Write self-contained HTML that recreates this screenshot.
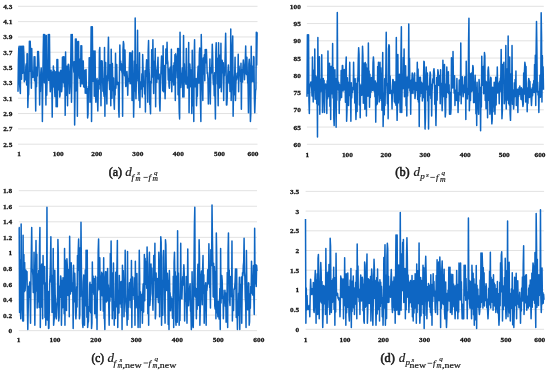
<!DOCTYPE html>
<html><head><meta charset="utf-8"><style>
html,body{margin:0;padding:0;background:#fff;}
svg{display:block;filter:blur(0.3px);}
.t{font-family:"Liberation Serif",serif;font-weight:bold;font-size:7.0px;fill:#111;stroke:#111;stroke-width:0.25px;}
.cap{font-family:"Liberation Serif",serif;fill:#1a1a1a;stroke:#1a1a1a;stroke-width:0.2px;}
</style></head><body>
<svg width="550" height="372" viewBox="0 0 550 372">
<rect width="550" height="372" fill="#fff"/>
<line x1="18.0" x2="257.5" y1="6.30" y2="6.30" stroke="#e2e2e2" stroke-width="1"/>
<text class="t" transform="translate(12.30,8.80) scale(1.05,1)" text-anchor="end">4.3</text>
<line x1="18.0" x2="257.5" y1="21.62" y2="21.62" stroke="#e2e2e2" stroke-width="1"/>
<text class="t" transform="translate(12.30,24.12) scale(1.05,1)" text-anchor="end">4.1</text>
<line x1="18.0" x2="257.5" y1="36.94" y2="36.94" stroke="#e2e2e2" stroke-width="1"/>
<text class="t" transform="translate(12.30,39.44) scale(1.05,1)" text-anchor="end">3.9</text>
<line x1="18.0" x2="257.5" y1="52.26" y2="52.26" stroke="#e2e2e2" stroke-width="1"/>
<text class="t" transform="translate(12.30,54.76) scale(1.05,1)" text-anchor="end">3.7</text>
<line x1="18.0" x2="257.5" y1="67.58" y2="67.58" stroke="#e2e2e2" stroke-width="1"/>
<text class="t" transform="translate(12.30,70.08) scale(1.05,1)" text-anchor="end">3.5</text>
<line x1="18.0" x2="257.5" y1="82.90" y2="82.90" stroke="#e2e2e2" stroke-width="1"/>
<text class="t" transform="translate(12.30,85.40) scale(1.05,1)" text-anchor="end">3.3</text>
<line x1="18.0" x2="257.5" y1="98.22" y2="98.22" stroke="#e2e2e2" stroke-width="1"/>
<text class="t" transform="translate(12.30,100.72) scale(1.05,1)" text-anchor="end">3.1</text>
<line x1="18.0" x2="257.5" y1="113.54" y2="113.54" stroke="#e2e2e2" stroke-width="1"/>
<text class="t" transform="translate(12.30,116.04) scale(1.05,1)" text-anchor="end">2.9</text>
<line x1="18.0" x2="257.5" y1="128.86" y2="128.86" stroke="#e2e2e2" stroke-width="1"/>
<text class="t" transform="translate(12.30,131.36) scale(1.05,1)" text-anchor="end">2.7</text>
<line x1="18.0" x2="257.5" y1="144.18" y2="144.18" stroke="#e2e2e2" stroke-width="1"/>
<text class="t" transform="translate(12.30,146.68) scale(1.05,1)" text-anchor="end">2.5</text>
<text class="t" transform="translate(19.00,156.10) scale(1.05,1)" text-anchor="middle">1</text>
<text class="t" transform="translate(58.20,156.10) scale(1.05,1)" text-anchor="middle">100</text>
<text class="t" transform="translate(96.70,156.10) scale(1.05,1)" text-anchor="middle">200</text>
<text class="t" transform="translate(137.80,156.10) scale(1.05,1)" text-anchor="middle">300</text>
<text class="t" transform="translate(178.30,156.10) scale(1.05,1)" text-anchor="middle">400</text>
<text class="t" transform="translate(219.50,156.10) scale(1.05,1)" text-anchor="middle">500</text>
<text class="t" transform="translate(253.00,156.10) scale(1.05,1)" text-anchor="middle">600</text>
<polyline fill="none" stroke="#0e66c3" stroke-width="1.5" stroke-linejoin="round" points="18.00,91.79 18.39,59.53 18.79,48.08 19.18,46.21 19.57,83.99 19.97,88.61 20.36,93.54 20.75,46.21 21.15,66.33 21.54,79.18 21.93,46.21 22.33,46.30 22.72,73.31 23.11,47.40 23.51,46.21 23.90,55.58 24.29,81.63 24.69,77.94 25.08,73.08 25.47,79.69 25.87,66.06 26.26,63.84 26.65,85.11 27.05,53.72 27.44,53.72 27.83,107.51 28.22,95.22 28.62,94.81 29.01,78.26 29.40,41.15 29.80,71.20 30.19,41.15 30.58,52.68 30.98,70.91 31.37,88.30 31.76,48.48 32.16,69.42 32.55,77.38 32.94,77.32 33.34,73.00 33.73,74.60 34.12,56.69 34.52,80.67 34.91,56.69 35.30,78.81 35.70,111.01 36.09,67.33 36.48,86.74 36.88,67.75 37.27,75.98 37.66,51.45 38.06,61.53 38.45,51.45 38.84,61.81 39.24,74.98 39.63,104.89 40.02,79.29 40.42,91.56 40.81,72.58 41.20,68.12 41.60,76.92 41.99,79.07 42.38,121.49 42.78,84.07 43.17,52.66 43.56,34.51 43.96,44.72 44.35,82.72 44.74,34.51 45.14,41.70 45.53,73.07 45.92,104.89 46.32,35.38 46.71,95.34 47.10,78.43 47.50,75.65 47.89,70.04 48.28,34.51 48.67,80.58 49.07,56.84 49.46,34.51 49.85,75.29 50.25,91.79 50.64,84.95 51.03,70.19 51.43,81.42 51.82,81.12 52.21,117.12 52.61,71.86 53.00,87.34 53.39,65.95 53.79,82.51 54.18,70.37 54.57,87.94 54.97,96.60 55.36,96.04 55.75,71.86 56.15,106.64 56.54,101.45 56.93,59.49 57.33,106.64 57.72,59.49 58.11,86.50 58.51,89.75 58.90,72.19 59.29,84.71 59.69,97.03 60.08,95.19 60.47,71.05 60.87,70.32 61.26,82.71 61.65,91.79 62.05,86.74 62.44,57.14 62.83,78.00 63.23,56.69 63.62,82.81 64.01,56.69 64.41,86.86 64.80,62.78 65.19,115.37 65.59,51.98 65.98,95.50 66.37,78.84 66.77,66.23 67.16,71.60 67.55,105.77 67.94,66.94 68.34,64.15 68.73,64.94 69.12,77.78 69.52,93.54 69.91,86.13 70.30,74.46 70.70,64.82 71.09,34.51 71.48,102.27 71.88,76.96 72.27,34.51 72.66,61.16 73.06,64.12 73.45,65.22 73.84,72.28 74.24,61.85 74.63,124.98 75.02,96.56 75.42,38.88 75.81,91.03 76.20,38.88 76.60,87.17 76.99,48.08 77.38,116.25 77.78,41.50 78.17,72.04 78.56,41.50 78.96,74.38 79.35,78.26 79.74,59.29 80.14,76.43 80.53,86.55 80.92,45.86 81.32,62.60 81.71,45.86 82.10,83.89 82.50,75.89 82.89,60.97 83.28,61.00 83.68,86.46 84.07,87.17 84.46,76.19 84.86,70.29 85.25,93.36 85.64,72.38 86.04,69.49 86.43,92.99 86.82,93.55 87.22,88.75 87.61,117.99 88.00,114.45 88.39,86.39 88.79,88.80 89.18,57.74 89.57,57.74 89.97,102.27 90.36,86.92 90.75,67.51 91.15,26.65 91.54,121.49 91.93,79.89 92.33,26.65 92.72,66.67 93.11,81.33 93.51,78.47 93.90,51.10 94.29,96.20 94.69,78.34 95.08,51.10 95.47,92.31 95.87,102.27 96.26,82.98 96.65,80.75 97.05,78.60 97.44,99.40 97.83,111.01 98.23,91.61 98.62,80.11 99.01,89.11 99.41,50.68 99.80,47.61 100.19,84.24 100.59,65.82 100.98,105.77 101.37,60.68 101.77,82.55 102.16,61.05 102.55,74.58 102.95,91.24 103.34,78.42 103.73,92.49 104.13,96.32 104.52,47.61 104.91,116.25 105.31,62.57 105.70,62.45 106.09,92.15 106.49,91.69 106.88,104.02 107.27,75.83 107.67,81.08 108.06,55.07 108.45,37.13 108.84,63.90 109.24,78.69 109.63,89.58 110.02,64.87 110.42,79.35 110.81,105.77 111.20,49.36 111.60,73.52 111.99,98.29 112.38,63.39 112.78,90.45 113.17,86.47 113.56,77.93 113.96,101.02 114.35,109.26 114.74,88.42 115.14,94.88 115.53,53.20 115.92,88.34 116.32,70.13 116.71,64.43 117.10,84.62 117.50,82.02 117.89,84.19 118.28,82.62 118.68,110.10 119.07,117.12 119.46,73.81 119.86,44.99 120.25,68.43 120.64,60.95 121.04,70.31 121.43,63.76 121.82,71.57 122.22,73.62 122.61,116.25 123.00,49.91 123.40,41.50 123.79,44.13 124.18,71.80 124.58,75.80 124.97,50.04 125.36,74.24 125.76,86.55 126.15,85.86 126.54,73.24 126.94,71.49 127.33,77.60 127.72,95.29 128.11,80.29 128.51,78.63 128.90,81.51 129.29,67.23 129.69,52.85 130.08,83.85 130.47,65.84 130.87,52.85 131.26,83.56 131.65,66.82 132.05,100.53 132.44,51.10 132.83,78.63 133.23,77.27 133.62,117.12 134.01,95.59 134.41,60.91 134.80,91.08 135.19,17.92 135.59,84.53 135.98,98.78 136.37,79.93 136.77,64.47 137.16,74.01 137.55,30.14 137.95,81.06 138.34,73.57 138.73,91.62 139.13,100.38 139.52,52.85 139.91,107.51 140.31,81.70 140.70,89.14 141.09,82.05 141.49,86.04 141.88,73.72 142.27,97.03 142.67,54.60 143.06,68.42 143.45,86.38 143.85,82.35 144.24,81.46 144.63,93.98 145.03,70.70 145.42,111.88 145.81,76.83 146.21,67.89 146.60,59.84 146.99,76.18 147.39,74.70 147.78,102.36 148.17,51.17 148.56,40.62 148.96,69.17 149.35,75.22 149.74,104.52 150.14,104.47 150.53,113.63 150.92,81.31 151.32,83.07 151.71,49.87 152.10,77.12 152.50,74.55 152.89,39.75 153.28,72.63 153.68,93.54 154.07,61.56 154.46,75.48 154.86,66.24 155.25,48.48 155.64,106.64 156.04,69.91 156.43,79.45 156.82,82.20 157.22,67.73 157.61,64.75 158.00,57.22 158.40,78.93 158.79,76.51 159.18,74.12 159.58,103.44 159.97,111.01 160.36,90.62 160.76,76.22 161.15,66.12 161.54,56.03 161.94,73.50 162.33,61.41 162.72,90.67 163.12,45.86 163.51,91.79 163.90,69.12 164.30,65.51 164.69,82.02 165.08,98.78 165.48,84.27 165.87,48.94 166.26,58.98 166.66,63.52 167.05,42.37 167.44,59.73 167.83,62.62 168.23,80.08 168.62,68.78 169.01,86.16 169.41,88.30 169.80,79.48 170.19,67.18 170.59,80.16 170.98,74.67 171.37,49.36 171.77,91.79 172.16,74.40 172.55,81.87 172.95,78.83 173.34,65.87 173.73,85.05 174.13,62.76 174.52,83.18 174.91,54.63 175.31,100.55 175.70,53.76 176.09,56.70 176.49,57.36 176.88,63.90 177.27,77.63 177.67,48.51 178.06,94.64 178.45,48.51 178.85,92.65 179.24,112.33 179.63,118.91 180.03,32.26 180.42,68.03 180.81,87.52 181.21,81.26 181.60,73.27 181.99,77.27 182.39,67.94 182.78,97.05 183.17,72.51 183.57,35.40 183.96,97.05 184.35,63.86 184.75,77.57 185.14,76.99 185.53,81.33 185.93,84.16 186.32,48.51 186.71,82.89 187.11,76.89 187.50,87.96 187.89,87.67 188.28,77.47 188.68,42.40 189.07,112.79 189.46,70.90 189.86,64.05 190.25,72.59 190.64,86.64 191.04,86.65 191.43,69.70 191.82,113.57 192.22,50.26 192.61,85.33 193.00,105.80 193.40,82.38 193.79,121.53 194.18,56.82 194.58,39.77 194.97,86.75 195.36,84.62 195.76,79.74 196.15,78.41 196.54,105.79 196.94,91.09 197.33,96.33 197.72,74.97 198.12,66.29 198.51,82.42 198.90,83.02 199.30,54.51 199.69,47.97 200.08,75.74 200.48,103.26 200.87,121.53 201.26,34.53 201.66,59.21 202.05,74.33 202.44,86.37 202.84,100.55 203.23,58.08 203.62,73.94 204.02,59.64 204.41,54.69 204.80,80.84 205.20,49.39 205.59,62.80 205.98,59.29 206.38,49.39 206.77,60.28 207.16,73.46 207.56,72.75 207.95,78.95 208.34,104.05 208.73,89.72 209.13,84.54 209.52,76.45 209.91,59.00 210.31,104.05 210.70,75.49 211.09,67.52 211.49,72.93 211.88,62.62 212.27,44.14 212.67,55.70 213.06,78.54 213.45,84.61 213.85,76.55 214.24,95.81 214.63,72.82 215.03,96.78 215.42,118.91 215.81,53.76 216.21,42.74 216.60,63.06 216.99,58.00 217.39,83.88 217.78,81.46 218.17,105.79 218.57,42.74 218.96,70.72 219.35,88.06 219.75,78.35 220.14,54.90 220.53,86.98 220.93,43.27 221.32,91.81 221.71,73.26 222.11,60.17 222.50,64.80 222.89,72.71 223.29,62.70 223.68,100.55 224.07,72.61 224.47,75.63 224.86,67.20 225.25,51.13 225.65,33.30 226.04,59.96 226.43,104.90 226.83,104.92 227.22,97.48 227.61,77.69 228.00,70.78 228.40,65.12 228.79,80.44 229.18,83.27 229.58,71.68 229.97,91.39 230.36,89.61 230.76,28.93 231.15,100.55 231.54,85.67 231.94,89.45 232.33,45.20 232.72,35.93 233.12,116.28 233.51,92.68 233.90,95.08 234.30,78.27 234.69,74.15 235.08,57.26 235.48,100.55 235.87,84.32 236.26,76.04 236.66,79.81 237.05,73.33 237.44,77.74 237.84,76.59 238.23,54.28 238.62,91.81 239.02,65.98 239.41,71.31 239.80,70.81 240.20,70.79 240.59,81.37 240.98,63.37 241.38,109.29 241.77,69.54 242.16,79.27 242.56,82.07 242.95,66.79 243.34,59.88 243.74,66.99 244.13,65.92 244.52,79.75 244.92,68.82 245.31,60.24 245.70,45.89 246.10,73.52 246.49,74.56 246.88,57.19 247.28,72.56 247.67,82.22 248.06,84.39 248.45,112.79 248.85,63.75 249.24,59.35 249.63,66.64 250.03,89.11 250.42,121.53 250.81,113.66 251.21,46.24 251.60,81.97 251.99,74.87 252.39,76.79 252.78,66.00 253.17,81.68 253.57,56.38 253.96,57.43 254.35,97.30 254.75,112.79 255.14,100.63 255.53,90.90 255.93,88.91 256.32,32.26 256.71,65.09 257.11,32.54 257.50,32.26"/>
<line x1="306.9" x2="543.8" y1="6.30" y2="6.30" stroke="#e2e2e2" stroke-width="1"/>
<text class="t" transform="translate(300.80,8.80) scale(1.05,1)" text-anchor="end">100</text>
<line x1="306.9" x2="543.8" y1="23.55" y2="23.55" stroke="#e2e2e2" stroke-width="1"/>
<text class="t" transform="translate(300.80,26.05) scale(1.05,1)" text-anchor="end">95</text>
<line x1="306.9" x2="543.8" y1="40.80" y2="40.80" stroke="#e2e2e2" stroke-width="1"/>
<text class="t" transform="translate(300.80,43.30) scale(1.05,1)" text-anchor="end">90</text>
<line x1="306.9" x2="543.8" y1="58.05" y2="58.05" stroke="#e2e2e2" stroke-width="1"/>
<text class="t" transform="translate(300.80,60.55) scale(1.05,1)" text-anchor="end">85</text>
<line x1="306.9" x2="543.8" y1="75.30" y2="75.30" stroke="#e2e2e2" stroke-width="1"/>
<text class="t" transform="translate(300.80,77.80) scale(1.05,1)" text-anchor="end">80</text>
<line x1="306.9" x2="543.8" y1="92.55" y2="92.55" stroke="#e2e2e2" stroke-width="1"/>
<text class="t" transform="translate(300.80,95.05) scale(1.05,1)" text-anchor="end">75</text>
<line x1="306.9" x2="543.8" y1="109.80" y2="109.80" stroke="#e2e2e2" stroke-width="1"/>
<text class="t" transform="translate(300.80,112.30) scale(1.05,1)" text-anchor="end">70</text>
<line x1="306.9" x2="543.8" y1="127.05" y2="127.05" stroke="#e2e2e2" stroke-width="1"/>
<text class="t" transform="translate(300.80,129.55) scale(1.05,1)" text-anchor="end">65</text>
<line x1="306.9" x2="543.8" y1="144.30" y2="144.30" stroke="#e2e2e2" stroke-width="1"/>
<text class="t" transform="translate(300.80,146.80) scale(1.05,1)" text-anchor="end">60</text>
<text class="t" transform="translate(307.30,156.70) scale(1.05,1)" text-anchor="middle">1</text>
<text class="t" transform="translate(347.40,156.70) scale(1.05,1)" text-anchor="middle">100</text>
<text class="t" transform="translate(386.00,156.70) scale(1.05,1)" text-anchor="middle">200</text>
<text class="t" transform="translate(425.00,156.70) scale(1.05,1)" text-anchor="middle">300</text>
<text class="t" transform="translate(465.20,156.70) scale(1.05,1)" text-anchor="middle">400</text>
<text class="t" transform="translate(504.20,156.70) scale(1.05,1)" text-anchor="middle">500</text>
<text class="t" transform="translate(540.00,156.70) scale(1.05,1)" text-anchor="middle">600</text>
<polyline fill="none" stroke="#0e66c3" stroke-width="1.5" stroke-linejoin="round" points="307.00,96.79 307.39,34.76 307.78,36.00 308.17,93.15 308.55,34.76 308.94,100.77 309.33,113.39 309.72,88.99 310.11,85.43 310.50,83.67 310.88,81.94 311.27,82.35 311.66,87.35 312.05,96.05 312.44,56.91 312.83,85.61 313.21,102.03 313.60,87.52 313.99,69.97 314.38,90.24 314.77,48.95 315.16,99.20 315.54,75.56 315.93,95.01 316.32,76.97 316.71,103.67 317.10,81.57 317.49,136.97 317.87,37.56 318.26,104.98 318.65,69.82 319.04,94.63 319.43,56.85 319.82,114.26 320.20,79.31 320.59,91.67 320.98,79.00 321.37,86.50 321.76,54.76 322.15,91.93 322.53,112.51 322.92,98.96 323.31,78.49 323.70,97.66 324.09,80.45 324.48,112.51 324.86,86.22 325.25,88.32 325.64,84.05 326.03,88.47 326.42,89.53 326.81,113.39 327.19,80.84 327.58,98.74 327.97,51.11 328.36,96.75 328.75,67.76 329.14,95.84 329.52,63.32 329.91,106.34 330.30,81.75 330.69,119.50 331.08,66.36 331.47,93.72 331.85,70.15 332.24,93.66 332.63,43.58 333.02,98.05 333.41,67.44 333.80,118.24 334.18,125.61 334.57,101.09 334.96,69.66 335.35,106.63 335.74,78.62 336.13,127.36 336.51,87.64 336.90,100.29 337.29,12.40 337.68,80.05 338.07,81.66 338.46,89.93 338.84,82.85 339.23,113.39 339.62,84.78 340.01,100.27 340.40,87.82 340.79,97.70 341.17,70.46 341.56,97.60 341.95,80.26 342.34,65.51 342.73,65.75 343.12,90.92 343.50,79.68 343.89,88.47 344.28,69.59 344.67,90.01 345.06,79.88 345.45,102.32 345.83,66.87 346.22,56.91 346.61,121.25 347.00,110.86 347.39,77.84 347.78,97.57 348.16,84.90 348.55,105.53 348.94,82.00 349.33,87.92 349.72,62.29 350.11,95.72 350.49,87.87 350.88,121.25 351.27,82.72 351.66,97.97 352.05,88.48 352.44,92.51 352.82,87.24 353.21,89.57 353.60,62.29 353.99,87.84 354.38,82.77 354.77,102.94 355.15,78.67 355.54,101.73 355.93,119.50 356.32,109.12 356.71,83.34 357.10,111.47 357.48,78.12 357.87,81.23 358.26,59.53 358.65,47.66 359.04,54.31 359.43,105.03 359.81,84.12 360.20,117.75 360.59,86.78 360.98,92.12 361.37,84.94 361.76,95.18 362.14,66.22 362.53,46.16 362.92,56.34 363.31,103.30 363.70,63.09 364.09,98.78 364.47,70.59 364.86,109.16 365.25,62.49 365.64,95.94 366.03,63.89 366.42,116.01 366.80,67.95 367.19,95.61 367.58,68.99 367.97,96.35 368.36,42.93 368.75,78.13 369.13,70.88 369.52,107.27 369.91,74.15 370.30,97.41 370.69,82.90 371.08,92.15 371.46,77.50 371.85,88.12 372.24,82.72 372.63,90.54 373.02,62.61 373.41,56.91 373.79,62.36 374.18,91.17 374.57,82.99 374.96,96.69 375.35,80.89 375.74,122.12 376.12,90.47 376.51,105.02 376.90,82.71 377.29,104.02 377.68,66.45 378.07,94.87 378.45,62.29 378.84,90.55 379.23,102.03 379.62,89.78 380.01,62.29 380.40,98.22 380.78,67.74 381.17,100.56 381.56,73.35 381.95,110.17 382.34,78.10 382.73,52.61 383.11,126.49 383.50,108.21 383.89,93.11 384.28,114.64 384.67,78.81 385.06,105.53 385.44,82.81 385.83,73.32 386.22,32.18 386.61,81.97 387.00,86.77 387.39,103.70 387.78,83.48 388.16,118.63 388.55,48.70 388.94,44.65 389.33,45.91 389.72,93.41 390.11,75.88 390.49,91.01 390.88,90.26 391.27,93.97 391.66,93.64 392.05,109.02 392.44,86.37 392.82,79.49 393.21,80.05 393.60,92.68 393.99,90.65 394.38,101.73 394.77,81.86 395.15,102.91 395.54,84.24 395.93,105.29 396.32,37.56 396.71,98.79 397.10,120.37 397.48,104.08 397.87,54.56 398.26,102.98 398.65,77.56 399.04,99.15 399.43,74.18 399.81,99.18 400.20,112.51 400.59,103.78 400.98,53.62 401.37,26.80 401.76,112.51 402.14,86.85 402.53,74.22 402.92,88.82 403.31,57.44 403.70,83.51 404.09,48.95 404.47,96.85 404.86,75.49 405.25,90.38 405.64,65.78 406.03,105.72 406.42,91.61 406.80,116.01 407.19,77.11 407.58,95.94 407.97,78.18 408.36,88.11 408.75,24.01 409.13,77.49 409.52,58.15 409.91,91.03 410.30,80.49 410.69,114.26 411.08,80.32 411.46,93.44 411.85,81.08 412.24,73.04 412.63,74.25 413.02,93.49 413.41,80.33 413.79,89.38 414.18,79.79 414.57,73.04 414.96,98.54 415.35,95.26 415.74,82.57 416.12,89.19 416.51,85.08 416.90,90.58 417.29,62.29 417.68,99.46 418.07,69.11 418.45,102.00 418.84,77.32 419.23,126.49 419.62,77.54 420.01,96.61 420.40,77.18 420.78,90.73 421.17,82.09 421.56,93.35 421.95,83.06 422.34,100.97 422.73,90.02 423.11,97.78 423.50,79.52 423.89,61.21 424.28,62.15 424.67,106.84 425.06,129.11 425.44,118.12 425.83,76.65 426.22,67.02 426.61,80.88 427.00,89.77 427.39,73.00 427.77,100.96 428.16,85.98 428.55,129.11 428.94,93.99 429.33,95.11 429.72,80.12 430.10,71.97 430.49,74.11 430.88,98.51 431.27,84.13 431.66,116.01 432.05,91.90 432.43,84.98 432.82,78.70 433.21,82.83 433.60,71.06 433.99,68.74 434.38,73.53 434.76,104.32 435.15,85.19 435.54,105.25 435.93,125.61 436.32,106.30 436.71,77.39 437.09,100.13 437.48,82.11 437.87,69.81 438.26,72.35 438.65,85.35 439.04,75.27 439.42,85.65 439.81,80.97 440.20,103.78 440.59,69.81 440.98,94.55 441.37,83.28 441.75,91.93 442.14,110.77 442.53,99.48 442.92,60.14 443.31,96.81 443.70,71.59 444.08,96.34 444.47,64.54 444.86,97.62 445.25,116.88 445.64,112.54 446.03,83.92 446.41,97.53 446.80,67.02 447.19,86.18 447.58,73.88 447.97,92.61 448.36,71.79 448.74,93.65 449.13,84.66 449.52,114.26 449.91,92.28 450.30,97.71 450.69,114.26 451.07,108.29 451.46,57.67 451.85,81.23 452.24,63.37 452.63,87.96 453.02,51.54 453.40,78.76 453.79,79.27 454.18,93.22 454.57,75.65 454.96,105.53 455.35,90.59 455.73,94.74 456.12,89.92 456.51,100.44 456.90,78.42 457.29,99.96 457.68,92.60 458.06,112.51 458.45,92.74 458.84,101.28 459.23,79.91 459.62,92.10 460.01,79.91 460.39,94.97 460.78,42.93 461.17,103.78 461.56,79.72 461.95,89.04 462.34,76.78 462.72,88.89 463.11,96.79 463.50,91.20 463.89,84.99 464.28,92.59 464.67,77.08 465.06,87.70 465.44,76.55 465.83,119.50 466.22,61.21 466.61,93.25 467.00,88.86 467.39,98.87 467.77,88.19 468.16,94.24 468.55,43.13 468.94,18.20 469.33,110.77 469.72,99.67 470.10,73.44 470.49,100.43 470.88,75.71 471.27,91.79 471.66,73.08 472.05,90.99 472.43,75.26 472.82,65.51 473.21,67.49 473.60,102.62 473.99,81.91 474.38,102.58 474.76,86.45 475.15,75.19 475.54,88.62 475.93,113.83 476.32,87.66 476.71,125.61 477.09,82.18 477.48,102.95 477.87,93.85 478.26,107.40 478.65,114.26 479.04,79.49 479.42,84.23 479.81,100.53 480.20,87.29 480.59,130.85 480.98,88.45 481.37,107.09 481.75,56.27 482.14,85.45 482.53,68.91 482.92,85.22 483.31,66.46 483.70,93.68 484.08,68.41 484.47,52.61 484.86,55.85 485.25,100.51 485.64,80.93 486.03,108.68 486.41,82.09 486.80,100.93 487.19,86.43 487.58,117.75 487.97,70.75 488.36,67.02 488.74,74.05 489.13,100.43 489.52,82.34 489.91,114.26 490.30,83.50 490.69,77.34 491.07,78.09 491.46,110.93 491.85,123.87 492.24,119.20 492.63,87.14 493.02,111.72 493.40,89.24 493.79,106.54 494.18,82.28 494.57,105.65 494.96,114.26 495.35,98.19 495.73,77.29 496.12,105.03 496.51,78.29 496.90,93.21 497.29,67.02 497.68,92.87 498.06,82.75 498.45,91.46 498.84,84.12 499.23,103.78 499.62,81.21 500.01,91.67 500.39,78.55 500.78,77.59 501.17,49.38 501.56,89.15 501.95,118.63 502.34,111.28 502.72,64.59 503.11,82.89 503.50,64.66 503.89,62.29 504.28,103.78 504.67,99.99 505.05,81.61 505.44,97.04 505.83,45.51 506.22,109.02 506.61,68.67 507.00,100.14 507.38,71.62 507.77,88.62 508.16,36.05 508.55,103.47 508.94,60.62 509.33,105.04 509.71,57.04 510.10,113.22 510.49,120.37 510.88,100.80 511.27,73.85 511.66,91.51 512.04,45.51 512.43,104.32 512.82,89.80 513.21,97.48 513.60,109.02 513.99,103.84 514.37,82.66 514.76,96.66 515.15,79.47 515.54,91.81 515.93,70.89 516.32,105.49 516.70,92.47 517.09,99.84 517.48,89.22 517.87,112.51 518.26,92.05 518.65,96.40 519.03,87.72 519.42,94.59 519.81,85.94 520.20,92.65 520.59,88.47 520.98,99.14 521.36,87.67 521.75,99.75 522.14,88.93 522.53,101.18 522.92,106.40 523.31,103.86 523.69,73.08 524.08,94.28 524.47,70.90 524.86,62.29 525.25,65.09 525.64,102.00 526.02,66.60 526.41,96.76 526.80,87.63 527.19,111.64 527.58,90.68 527.97,103.22 528.35,82.70 528.74,78.42 529.13,80.59 529.52,97.46 529.91,81.48 530.30,92.88 530.68,89.11 531.07,97.70 531.46,105.53 531.85,97.88 532.24,87.64 532.63,95.65 533.01,84.11 533.40,90.92 533.79,80.45 534.18,92.54 534.57,64.60 534.96,84.78 535.34,55.36 535.73,105.53 536.12,51.24 536.51,21.43 536.90,50.21 537.29,91.97 537.67,82.17 538.06,95.06 538.45,91.37 538.84,112.51 539.23,91.44 539.62,97.42 540.00,75.27 540.39,97.16 540.78,81.44 541.17,12.83 541.56,36.80 541.95,102.03 542.33,55.58 542.72,87.43 543.11,66.64 543.50,89.81"/>
<line x1="18.8" x2="257.0" y1="190.70" y2="190.70" stroke="#e2e2e2" stroke-width="1"/>
<text class="t" transform="translate(12.10,193.20) scale(1.05,1)" text-anchor="end">1.8</text>
<line x1="18.8" x2="257.0" y1="206.25" y2="206.25" stroke="#e2e2e2" stroke-width="1"/>
<text class="t" transform="translate(12.10,208.75) scale(1.05,1)" text-anchor="end">1.6</text>
<line x1="18.8" x2="257.0" y1="221.80" y2="221.80" stroke="#e2e2e2" stroke-width="1"/>
<text class="t" transform="translate(12.10,224.30) scale(1.05,1)" text-anchor="end">1.4</text>
<line x1="18.8" x2="257.0" y1="237.35" y2="237.35" stroke="#e2e2e2" stroke-width="1"/>
<text class="t" transform="translate(12.10,239.85) scale(1.05,1)" text-anchor="end">1.2</text>
<line x1="18.8" x2="257.0" y1="252.90" y2="252.90" stroke="#e2e2e2" stroke-width="1"/>
<text class="t" transform="translate(12.10,255.40) scale(1.05,1)" text-anchor="end">1</text>
<line x1="18.8" x2="257.0" y1="268.45" y2="268.45" stroke="#e2e2e2" stroke-width="1"/>
<text class="t" transform="translate(12.10,270.95) scale(1.05,1)" text-anchor="end">0.8</text>
<line x1="18.8" x2="257.0" y1="284.00" y2="284.00" stroke="#e2e2e2" stroke-width="1"/>
<text class="t" transform="translate(12.10,286.50) scale(1.05,1)" text-anchor="end">0.6</text>
<line x1="18.8" x2="257.0" y1="299.55" y2="299.55" stroke="#e2e2e2" stroke-width="1"/>
<text class="t" transform="translate(12.10,302.05) scale(1.05,1)" text-anchor="end">0.4</text>
<line x1="18.8" x2="257.0" y1="315.10" y2="315.10" stroke="#e2e2e2" stroke-width="1"/>
<text class="t" transform="translate(12.10,317.60) scale(1.05,1)" text-anchor="end">0.2</text>
<line x1="18.8" x2="257.0" y1="330.65" y2="330.65" stroke="#e2e2e2" stroke-width="1"/>
<text class="t" transform="translate(12.10,333.15) scale(1.05,1)" text-anchor="end">0</text>
<text class="t" transform="translate(18.60,342.10) scale(1.05,1)" text-anchor="middle">1</text>
<text class="t" transform="translate(55.00,342.10) scale(1.05,1)" text-anchor="middle">100</text>
<text class="t" transform="translate(95.80,342.10) scale(1.05,1)" text-anchor="middle">200</text>
<text class="t" transform="translate(136.20,342.10) scale(1.05,1)" text-anchor="middle">300</text>
<text class="t" transform="translate(177.30,342.10) scale(1.05,1)" text-anchor="middle">400</text>
<text class="t" transform="translate(218.20,342.10) scale(1.05,1)" text-anchor="middle">500</text>
<text class="t" transform="translate(258.80,342.10) scale(1.05,1)" text-anchor="middle">600</text>
<polyline fill="none" stroke="#0e66c3" stroke-width="1.5" stroke-linejoin="round" points="18.80,227.56 19.19,227.56 19.58,312.39 19.97,259.63 20.36,302.37 20.76,318.84 21.15,223.90 21.54,289.33 21.93,274.96 22.32,310.42 22.71,320.99 23.10,235.32 23.49,320.99 23.88,254.60 24.28,291.72 24.67,262.60 25.06,290.70 25.45,285.20 25.84,270.06 26.23,271.64 26.62,272.42 27.01,271.64 27.40,309.06 27.80,329.59 28.19,310.26 28.58,286.24 28.97,297.29 29.36,292.58 29.75,281.91 30.14,300.25 30.53,323.14 30.93,281.61 31.32,253.26 31.71,227.56 32.10,268.73 32.49,270.42 32.88,275.28 33.27,292.48 33.66,290.35 34.05,252.29 34.45,294.01 34.84,325.29 35.23,293.04 35.62,270.38 36.01,240.46 36.40,291.10 36.79,254.21 37.18,308.09 37.57,273.72 37.97,301.81 38.36,298.81 38.75,270.46 39.14,307.38 39.53,246.26 39.92,227.56 40.31,327.44 40.70,276.30 41.09,307.14 41.49,265.25 41.88,263.90 42.27,284.33 42.66,318.84 43.05,255.51 43.44,279.99 43.83,268.76 44.22,283.97 44.61,266.58 45.01,317.51 45.40,282.83 45.79,325.29 46.18,301.41 46.57,302.46 46.96,207.13 47.35,319.93 47.74,295.24 48.13,291.46 48.53,328.52 48.92,328.18 49.31,309.49 49.70,281.68 50.09,276.66 50.48,261.57 50.87,236.80 51.26,282.14 51.66,275.32 52.05,312.39 52.44,290.84 52.83,300.04 53.22,248.42 53.61,325.29 54.00,320.57 54.39,317.26 54.78,270.22 55.18,295.67 55.57,299.00 55.96,316.91 56.35,318.84 56.74,312.08 57.13,303.96 57.52,301.42 57.91,239.38 58.30,255.35 58.70,320.99 59.09,317.55 59.48,286.22 59.87,296.74 60.26,297.32 60.65,275.94 61.04,278.77 61.43,325.29 61.82,307.20 62.22,280.45 62.61,307.75 63.00,277.67 63.39,300.61 63.78,291.94 64.17,313.85 64.56,248.42 64.95,325.29 65.34,259.91 65.74,279.43 66.13,284.60 66.52,310.57 66.91,258.74 67.30,265.95 67.69,274.14 68.08,295.56 68.47,285.06 68.87,269.52 69.26,316.69 69.65,236.16 70.04,276.36 70.43,293.94 70.82,277.58 71.21,262.70 71.60,273.46 71.99,291.49 72.39,282.64 72.78,291.90 73.17,328.52 73.56,265.19 73.95,296.69 74.34,301.79 74.73,273.27 75.12,287.40 75.51,312.58 75.91,318.84 76.30,310.85 76.69,286.78 77.08,307.08 77.47,255.47 77.86,270.22 78.25,249.69 78.64,238.95 79.03,260.24 79.43,318.84 79.82,314.35 80.21,247.72 80.60,296.47 80.99,222.18 81.38,264.44 81.77,292.85 82.16,295.77 82.55,323.10 82.95,327.44 83.34,282.09 83.73,274.95 84.12,310.19 84.51,325.29 84.90,289.05 85.29,269.72 85.68,305.65 86.07,250.14 86.47,263.87 86.86,317.29 87.25,250.14 87.64,327.44 88.03,322.81 88.42,321.63 88.81,306.43 89.20,311.17 89.60,285.51 89.99,282.33 90.38,310.86 90.77,312.75 91.16,284.73 91.55,328.52 91.94,323.01 92.33,261.97 92.72,292.37 93.12,276.11 93.51,291.21 93.90,294.51 94.29,278.65 94.68,313.84 95.07,298.00 95.46,276.20 95.85,309.09 96.24,317.91 96.64,302.25 97.03,329.59 97.42,277.27 97.81,290.84 98.20,250.35 98.59,238.95 98.98,272.81 99.37,289.51 99.76,257.68 100.16,284.81 100.55,310.24 100.94,276.12 101.33,282.80 101.72,272.19 102.11,295.64 102.50,273.67 102.89,281.07 103.28,311.12 103.68,257.83 104.07,318.40 104.46,316.82 104.85,329.59 105.24,277.89 105.63,271.80 106.02,271.66 106.41,302.04 106.80,290.87 107.20,285.98 107.59,268.42 107.98,300.94 108.37,284.95 108.76,307.54 109.15,325.29 109.54,288.11 109.93,301.28 110.33,253.57 110.72,281.31 111.11,241.11 111.50,297.14 111.89,290.32 112.28,318.84 112.67,272.74 113.06,310.56 113.45,263.04 113.85,290.06 114.24,325.29 114.63,301.86 115.02,304.46 115.41,318.43 115.80,272.14 116.19,306.92 116.58,276.59 116.97,266.80 117.37,240.46 117.76,327.44 118.15,290.22 118.54,291.59 118.93,313.06 119.32,275.39 119.71,300.51 120.10,303.80 120.49,300.49 120.89,281.80 121.28,307.50 121.67,281.37 122.06,329.59 122.45,265.19 122.84,290.74 123.23,270.51 123.62,285.48 124.01,316.69 124.41,301.77 124.80,299.50 125.19,250.14 125.58,294.35 125.97,303.57 126.36,311.61 126.75,311.46 127.14,325.29 127.53,251.43 127.93,319.47 128.32,290.27 128.71,307.20 129.10,295.12 129.49,282.71 129.88,299.84 130.27,300.06 130.66,279.09 131.06,307.74 131.45,260.46 131.84,327.44 132.23,288.79 132.62,277.12 133.01,295.24 133.40,289.02 133.79,289.56 134.18,299.24 134.58,277.67 134.97,325.29 135.36,261.32 135.75,303.39 136.14,307.71 136.53,297.76 136.92,273.54 137.31,305.51 137.70,304.32 138.10,327.44 138.49,296.24 138.88,307.46 139.27,250.14 139.66,275.83 140.05,327.44 140.44,291.66 140.83,310.43 141.22,297.89 141.62,303.46 142.01,294.29 142.40,323.14 142.79,293.11 143.18,283.91 143.57,312.04 143.96,290.50 144.35,254.44 144.74,300.73 145.14,258.40 145.53,284.30 145.92,268.51 146.31,261.17 146.70,288.19 147.09,246.91 147.48,276.56 147.87,313.81 148.27,284.98 148.66,325.29 149.05,264.35 149.44,252.29 149.83,305.38 150.22,299.93 150.61,278.33 151.00,263.98 151.39,282.62 151.79,267.92 152.18,293.65 152.57,297.07 152.96,310.24 153.35,287.30 153.74,255.41 154.13,262.27 154.52,280.49 154.91,243.26 155.31,318.84 155.70,313.86 156.09,273.02 156.48,296.81 156.87,297.21 157.26,278.52 157.65,283.24 158.04,295.28 158.43,302.57 158.83,252.29 159.22,267.68 159.61,316.69 160.00,287.70 160.39,274.70 160.78,236.80 161.17,242.66 161.56,325.29 161.95,302.76 162.35,280.25 162.74,315.33 163.13,257.67 163.52,250.57 163.91,276.33 164.30,275.08 164.69,308.04 165.08,323.14 165.47,239.81 165.87,244.58 166.26,271.59 166.65,290.59 167.04,287.19 167.43,273.20 167.82,282.60 168.21,324.38 168.60,280.62 169.00,329.59 169.39,270.57 169.78,291.38 170.17,293.78 170.56,310.72 170.95,296.79 171.34,302.02 171.73,298.78 172.12,306.29 172.52,318.29 172.91,314.48 173.30,276.34 173.69,327.44 174.08,262.87 174.47,252.29 174.86,278.69 175.25,271.63 175.64,319.94 176.04,325.29 176.43,276.19 176.82,291.19 177.21,322.29 177.60,230.78 177.99,299.57 178.38,272.99 178.77,296.10 179.16,325.29 179.56,311.91 179.95,320.57 180.34,293.14 180.73,243.26 181.12,295.72 181.51,298.33 181.90,298.91 182.29,286.96 182.68,276.65 183.08,285.07 183.47,274.75 183.86,264.76 184.25,273.45 184.64,320.99 185.03,298.09 185.42,297.58 185.81,300.99 186.20,276.48 186.60,303.83 186.99,323.14 187.38,291.18 187.77,249.06 188.16,289.86 188.55,305.68 188.94,297.39 189.33,294.58 189.73,286.68 190.12,283.64 190.51,310.86 190.90,311.85 191.29,329.59 191.68,325.82 192.07,271.64 192.46,300.14 192.85,318.04 193.25,327.44 193.64,299.33 194.03,265.00 194.42,224.57 194.81,207.13 195.20,296.37 195.59,297.04 195.98,288.48 196.37,318.84 196.77,295.81 197.16,309.18 197.55,278.31 197.94,264.18 198.33,305.39 198.72,305.49 199.11,239.81 199.50,256.76 199.89,325.29 200.29,309.10 200.68,296.44 201.07,275.06 201.46,271.10 201.85,290.16 202.24,304.64 202.63,269.26 203.02,255.51 203.41,293.30 203.81,274.78 204.20,323.14 204.59,307.05 204.98,306.05 205.37,285.86 205.76,282.70 206.15,325.29 206.54,287.57 206.93,290.39 207.33,284.81 207.72,269.75 208.11,282.96 208.50,283.78 208.89,243.69 209.28,267.80 209.67,287.38 210.06,286.57 210.46,308.09 210.85,249.73 211.24,264.17 211.63,265.55 212.02,204.98 212.41,237.86 212.80,260.33 213.19,296.67 213.58,263.26 213.98,297.39 214.37,266.78 214.76,305.83 215.15,309.01 215.54,271.30 215.93,318.84 216.32,232.93 216.71,254.76 217.10,312.84 217.50,310.40 217.89,316.76 218.28,301.37 218.67,305.89 219.06,319.04 219.45,307.82 219.84,288.59 220.23,329.59 220.62,248.42 221.02,302.89 221.41,288.67 221.80,275.49 222.19,280.55 222.58,298.49 222.97,290.27 223.36,318.84 223.75,300.13 224.14,302.78 224.54,296.99 224.93,290.16 225.32,306.16 225.71,292.93 226.10,322.19 226.49,310.64 226.88,313.11 227.27,272.38 227.67,327.44 228.06,251.77 228.45,232.93 228.84,282.84 229.23,269.89 229.62,300.58 230.01,305.49 230.40,276.45 230.79,284.87 231.19,285.20 231.58,296.74 231.97,241.11 232.36,320.99 232.75,304.39 233.14,295.67 233.53,310.46 233.92,288.98 234.31,289.35 234.71,286.52 235.10,281.53 235.49,269.06 235.88,282.86 236.27,317.55 236.66,269.06 237.05,309.82 237.44,329.59 237.83,311.17 238.23,315.61 238.62,293.19 239.01,293.41 239.40,277.18 239.79,329.59 240.18,300.12 240.57,284.14 240.96,305.63 241.35,277.01 241.75,323.14 242.14,292.76 242.53,272.63 242.92,275.70 243.31,265.51 243.70,262.09 244.09,238.31 244.48,271.87 244.87,276.69 245.27,297.74 245.66,302.92 246.05,327.44 246.44,250.57 246.83,287.79 247.22,301.12 247.61,309.84 248.00,302.84 248.40,282.87 248.79,283.11 249.18,325.29 249.57,321.81 249.96,293.82 250.35,308.15 250.74,286.48 251.13,293.39 251.52,261.32 251.92,291.25 252.31,282.73 252.70,294.98 253.09,280.02 253.48,265.48 253.87,299.23 254.26,314.54 254.65,228.20 255.04,283.64 255.44,279.17 255.83,264.64 256.22,286.53 256.61,265.40 257.00,271.07"/>
<line x1="305.6" x2="544.1" y1="191.40" y2="191.40" stroke="#e2e2e2" stroke-width="1"/>
<text class="t" transform="translate(299.20,193.90) scale(1.05,1)" text-anchor="end">3.5</text>
<line x1="305.6" x2="544.1" y1="211.10" y2="211.10" stroke="#e2e2e2" stroke-width="1"/>
<text class="t" transform="translate(299.20,213.60) scale(1.05,1)" text-anchor="end">3</text>
<line x1="305.6" x2="544.1" y1="230.80" y2="230.80" stroke="#e2e2e2" stroke-width="1"/>
<text class="t" transform="translate(299.20,233.30) scale(1.05,1)" text-anchor="end">2.5</text>
<line x1="305.6" x2="544.1" y1="250.50" y2="250.50" stroke="#e2e2e2" stroke-width="1"/>
<text class="t" transform="translate(299.20,253.00) scale(1.05,1)" text-anchor="end">2</text>
<line x1="305.6" x2="544.1" y1="270.20" y2="270.20" stroke="#e2e2e2" stroke-width="1"/>
<text class="t" transform="translate(299.20,272.70) scale(1.05,1)" text-anchor="end">1.5</text>
<line x1="305.6" x2="544.1" y1="289.90" y2="289.90" stroke="#e2e2e2" stroke-width="1"/>
<text class="t" transform="translate(299.20,292.40) scale(1.05,1)" text-anchor="end">1</text>
<line x1="305.6" x2="544.1" y1="309.60" y2="309.60" stroke="#e2e2e2" stroke-width="1"/>
<text class="t" transform="translate(299.20,312.10) scale(1.05,1)" text-anchor="end">0.5</text>
<line x1="305.6" x2="544.1" y1="329.30" y2="329.30" stroke="#e2e2e2" stroke-width="1"/>
<text class="t" transform="translate(299.20,331.80) scale(1.05,1)" text-anchor="end">0</text>
<text class="t" transform="translate(305.60,341.50) scale(1.05,1)" text-anchor="middle">1</text>
<text class="t" transform="translate(345.00,341.50) scale(1.05,1)" text-anchor="middle">100</text>
<text class="t" transform="translate(383.40,341.50) scale(1.05,1)" text-anchor="middle">200</text>
<text class="t" transform="translate(424.60,341.50) scale(1.05,1)" text-anchor="middle">300</text>
<text class="t" transform="translate(465.50,341.50) scale(1.05,1)" text-anchor="middle">400</text>
<text class="t" transform="translate(506.00,341.50) scale(1.05,1)" text-anchor="middle">500</text>
<text class="t" transform="translate(539.70,341.50) scale(1.05,1)" text-anchor="middle">600</text>
<polyline fill="none" stroke="#0e66c3" stroke-width="1.5" stroke-linejoin="round" points="305.50,218.95 305.89,323.14 306.28,288.11 306.67,309.94 307.07,295.41 307.46,308.20 307.85,307.70 308.24,309.52 308.63,306.13 309.02,305.87 309.42,305.22 309.81,316.69 310.20,295.16 310.59,279.17 310.98,287.53 311.37,294.40 311.77,288.66 312.16,293.75 312.55,288.45 312.94,294.63 313.33,282.56 313.72,310.02 314.12,312.39 314.51,305.75 314.90,279.13 315.29,270.57 315.68,287.70 316.07,323.14 316.47,279.87 316.86,305.49 317.25,273.85 317.64,314.54 318.03,258.44 318.42,254.44 318.82,280.54 319.21,318.84 319.60,282.07 319.99,302.10 320.38,278.00 320.77,262.61 321.17,272.43 321.56,302.98 321.95,281.55 322.34,300.08 322.73,327.44 323.12,313.51 323.51,285.60 323.91,301.41 324.30,286.20 324.69,304.05 325.08,290.93 325.47,314.54 325.86,248.42 326.26,293.58 326.65,272.60 327.04,323.14 327.43,276.03 327.82,307.61 328.21,271.87 328.61,299.57 329.00,264.57 329.39,297.22 329.78,314.54 330.17,238.31 330.56,246.38 330.96,295.85 331.35,312.39 331.74,300.82 332.13,280.43 332.52,302.14 332.91,278.86 333.31,295.99 333.70,267.34 334.09,309.25 334.48,277.49 334.87,325.29 335.26,278.76 335.66,312.06 336.05,253.36 336.44,291.17 336.83,293.80 337.22,295.61 337.61,293.57 338.00,298.29 338.40,297.34 338.79,299.96 339.18,298.05 339.57,300.12 339.96,316.69 340.35,302.92 340.75,275.94 341.14,294.63 341.53,278.27 341.92,297.44 342.31,285.85 342.70,297.68 343.10,279.10 343.49,318.84 343.88,286.57 344.27,304.13 344.66,257.66 345.05,305.76 345.45,280.21 345.84,325.29 346.23,273.81 346.62,312.79 347.01,278.43 347.40,307.47 347.80,273.00 348.19,300.48 348.58,286.49 348.97,315.02 349.36,320.99 349.75,307.45 350.15,279.96 350.54,309.39 350.93,268.42 351.32,327.44 351.71,288.27 352.10,311.42 352.50,281.06 352.89,303.25 353.28,275.94 353.67,307.91 354.06,287.71 354.45,314.54 354.84,293.33 355.24,301.62 355.63,282.25 356.02,304.33 356.41,270.59 356.80,318.84 357.19,244.12 357.59,285.04 357.98,266.11 358.37,297.28 358.76,289.52 359.15,301.62 359.54,289.35 359.94,314.54 360.33,284.69 360.72,275.03 361.11,289.71 361.50,300.90 361.89,287.58 362.29,277.18 362.68,279.58 363.07,310.82 363.46,284.12 363.85,320.80 364.24,323.14 364.64,261.97 365.03,265.16 365.42,307.20 365.81,274.50 366.20,306.05 366.59,271.36 366.99,254.01 367.38,323.14 367.77,311.73 368.16,278.75 368.55,298.50 368.94,279.58 369.33,303.55 369.73,282.81 370.12,303.30 370.51,276.61 370.90,320.99 371.29,281.99 371.68,269.06 372.08,275.33 372.47,309.22 372.86,325.29 373.25,304.62 373.64,282.54 374.03,259.17 374.43,270.14 374.82,298.40 375.21,280.34 375.60,304.58 375.99,325.29 376.38,310.64 376.78,277.62 377.17,313.94 377.56,269.06 377.95,304.61 378.34,282.03 378.73,309.82 379.13,284.47 379.52,320.99 379.91,279.82 380.30,306.57 380.69,282.34 381.08,303.32 381.48,286.19 381.87,298.17 382.26,316.69 382.65,298.51 383.04,325.29 383.43,304.13 383.83,257.56 384.22,308.06 384.61,264.74 385.00,244.76 385.39,325.29 385.78,308.10 386.17,275.08 386.57,318.46 386.96,255.97 387.35,243.26 387.74,248.60 388.13,302.51 388.52,276.32 388.92,302.31 389.31,285.94 389.70,294.57 390.09,288.70 390.48,297.30 390.87,280.33 391.27,269.49 391.66,281.54 392.05,306.95 392.44,312.39 392.83,299.12 393.22,281.25 393.62,307.54 394.01,277.06 394.40,310.54 394.79,279.87 395.18,323.14 395.57,277.27 395.97,235.08 396.36,247.89 396.75,310.24 397.14,235.08 397.53,306.12 397.92,275.68 398.32,314.54 398.71,264.96 399.10,311.82 399.49,314.54 399.88,296.77 400.27,212.50 400.67,287.47 401.06,310.24 401.45,285.07 401.84,253.65 402.23,290.70 402.62,242.61 403.01,289.77 403.41,239.38 403.80,302.52 404.19,275.50 404.58,301.42 404.97,268.58 405.36,318.84 405.76,274.90 406.15,309.80 406.54,254.66 406.93,237.66 407.32,256.59 407.71,297.20 408.11,274.91 408.50,290.03 408.89,312.39 409.28,299.22 409.67,282.14 410.06,302.66 410.46,280.42 410.85,300.51 411.24,281.82 411.63,307.05 412.02,275.53 412.41,316.70 412.81,281.53 413.20,320.99 413.59,280.78 413.98,313.00 414.37,280.60 414.76,308.25 415.16,273.86 415.55,304.62 415.94,280.97 416.33,323.14 416.72,264.12 417.11,312.41 417.50,270.39 417.90,301.48 418.29,273.30 418.68,303.73 419.07,243.04 419.46,308.89 419.85,323.14 420.25,312.86 420.64,277.51 421.03,315.74 421.42,280.40 421.81,304.16 422.20,286.00 422.60,304.47 422.99,265.19 423.38,313.33 423.77,267.81 424.16,328.52 424.55,276.74 424.95,315.37 425.34,268.53 425.73,256.16 426.12,273.74 426.51,297.69 426.90,318.84 427.30,298.83 427.69,286.56 428.08,300.87 428.47,283.39 428.86,299.17 429.25,288.84 429.65,306.91 430.04,284.89 430.43,312.44 430.82,274.87 431.21,315.14 431.60,288.19 432.00,325.29 432.39,284.29 432.78,301.56 433.17,273.79 433.56,292.77 433.95,281.49 434.34,296.11 434.74,291.06 435.13,308.37 435.52,312.39 435.91,300.42 436.30,275.44 436.69,300.90 437.09,259.81 437.48,314.54 437.87,265.05 438.26,296.83 438.65,261.99 439.04,300.67 439.44,270.96 439.83,257.02 440.22,269.99 440.61,327.44 441.00,275.31 441.39,308.36 441.79,269.76 442.18,260.89 442.57,278.99 442.96,303.87 443.35,274.81 443.74,304.62 444.14,269.22 444.53,311.95 444.92,318.84 445.31,314.36 445.70,281.92 446.09,315.99 446.49,327.44 446.88,317.34 447.27,293.14 447.66,310.85 448.05,290.33 448.44,300.44 448.83,267.34 449.23,301.01 449.62,278.79 450.01,267.34 450.40,312.39 450.79,308.24 451.18,274.19 451.58,303.01 451.97,314.54 452.36,305.92 452.75,274.50 453.14,298.52 453.53,284.06 453.93,306.74 454.32,285.98 454.71,308.86 455.10,318.84 455.49,307.20 455.88,285.28 456.28,310.68 456.67,270.57 457.06,303.27 457.45,284.31 457.84,318.84 458.23,285.52 458.63,311.98 459.02,263.04 459.41,299.02 459.80,275.14 460.19,299.99 460.58,263.04 460.98,293.59 461.37,281.68 461.76,306.25 462.15,318.84 462.54,304.31 462.93,318.84 463.33,306.15 463.72,318.84 464.11,265.19 464.50,271.29 464.89,295.42 465.28,265.19 465.67,300.24 466.07,278.48 466.46,299.13 466.85,292.36 467.24,318.84 467.63,291.76 468.02,299.05 468.42,217.88 468.81,284.62 469.20,280.17 469.59,303.63 469.98,308.09 470.37,302.19 470.77,281.18 471.16,301.13 471.55,318.84 471.94,265.19 472.33,280.17 472.72,308.87 473.12,273.19 473.51,314.66 473.90,278.85 474.29,325.29 474.68,283.95 475.07,313.24 475.47,284.53 475.86,320.10 476.25,265.62 476.64,328.52 477.03,285.32 477.42,304.59 477.82,289.07 478.21,307.18 478.60,295.85 478.99,309.29 479.38,314.54 479.77,311.45 480.17,279.91 480.56,307.16 480.95,252.93 481.34,302.41 481.73,265.82 482.12,252.93 482.51,265.30 482.91,308.09 483.30,267.82 483.69,302.87 484.08,272.83 484.47,305.94 484.86,286.53 485.26,300.83 485.65,290.51 486.04,283.63 486.43,287.22 486.82,307.68 487.21,299.04 487.61,311.61 488.00,318.84 488.39,309.61 488.78,288.20 489.17,304.92 489.56,271.21 489.96,292.73 490.35,252.29 490.74,308.09 491.13,277.33 491.52,294.99 491.91,282.44 492.31,302.37 492.70,279.24 493.09,310.24 493.48,274.87 493.87,301.82 494.26,283.08 494.66,306.08 495.05,284.71 495.44,304.07 495.83,312.39 496.22,309.20 496.61,288.49 497.00,306.09 497.40,281.48 497.79,312.93 498.18,293.57 498.57,314.59 498.96,325.29 499.35,317.27 499.75,282.34 500.14,305.71 500.53,262.79 500.92,291.87 501.31,255.08 501.70,251.86 502.10,267.96 502.49,320.99 502.88,285.75 503.27,309.72 503.66,287.45 504.05,301.75 504.45,277.54 504.84,305.98 505.23,258.31 505.62,307.30 506.01,318.84 506.40,309.07 506.80,270.56 507.19,303.97 507.58,221.11 507.97,316.69 508.36,265.44 508.75,307.36 509.15,262.19 509.54,312.98 509.93,293.14 510.32,320.99 510.71,295.57 511.10,308.37 511.50,288.81 511.89,302.19 512.28,272.72 512.67,324.69 513.06,289.88 513.45,312.42 513.84,327.44 514.24,310.90 514.63,277.35 515.02,305.71 515.41,279.62 515.80,303.54 516.19,273.15 516.59,318.84 516.98,285.65 517.37,304.16 517.76,280.72 518.15,301.98 518.54,298.92 518.94,307.67 519.33,297.73 519.72,292.23 520.11,300.58 520.50,323.14 520.89,299.98 521.29,311.11 521.68,288.09 522.07,301.18 522.46,277.06 522.85,300.83 523.24,263.98 523.64,245.84 524.03,314.54 524.42,306.04 524.81,276.65 525.20,301.89 525.59,275.18 525.99,302.91 526.38,274.75 526.77,310.24 527.16,296.11 527.55,302.97 527.94,297.07 528.33,308.09 528.73,287.91 529.12,299.54 529.51,284.94 529.90,306.23 530.29,280.02 530.68,300.92 531.08,318.84 531.47,303.02 531.86,273.13 532.25,307.32 532.64,273.62 533.03,263.04 533.43,266.03 533.82,300.33 534.21,275.97 534.60,303.35 534.99,252.53 535.38,304.06 535.78,327.44 536.17,213.58 536.56,246.11 536.95,307.36 537.34,259.14 537.73,300.86 538.13,275.28 538.52,305.51 538.91,274.65 539.30,295.58 539.69,275.38 540.08,293.26 540.48,209.71 540.87,298.34 541.26,312.39 541.65,302.13 542.04,267.94 542.43,303.85 542.83,292.56 543.22,303.23 543.61,294.25 544.00,299.78"/>
<text class="cap" x="108.8" y="175.8" font-size="12.5" font-style="normal" style="stroke-width:0.6px" textLength="13.3" lengthAdjust="spacingAndGlyphs">(a)</text>
<text class="cap" x="125.3" y="175.6" font-size="13" font-style="italic">d</text>
<text class="cap" x="131.6" y="179.5" font-size="9" font-style="italic">f</text>
<text class="cap" x="137.2" y="175.1" font-size="7" font-style="italic">s</text>
<text class="cap" x="135.6" y="181.3" font-size="7.5" font-style="italic" textLength="5.0" lengthAdjust="spacingAndGlyphs">m</text>
<line x1="143.5" x2="147.8" y1="177.4" y2="177.4" stroke="#1a1a1a" stroke-width="0.75"/>
<text class="cap" x="148.6" y="179.5" font-size="9" font-style="italic">f</text>
<text class="cap" x="154.0" y="175.0" font-size="7" font-style="italic">q</text>
<text class="cap" x="152.6" y="181.3" font-size="7.5" font-style="italic" textLength="5.4" lengthAdjust="spacingAndGlyphs">m</text>
<text class="cap" x="395.3" y="175.7" font-size="12.5" font-style="normal" style="stroke-width:0.6px" textLength="14.4" lengthAdjust="spacingAndGlyphs">(b)</text>
<text class="cap" x="413.6" y="175.7" font-size="13" font-style="italic">d</text>
<text class="cap" x="420.3" y="179.4" font-size="9" font-style="italic">p</text>
<text class="cap" x="426.0" y="176.7" font-size="7" font-style="italic">s</text>
<line x1="430.3" x2="434.9" y1="177.4" y2="177.4" stroke="#1a1a1a" stroke-width="0.75"/>
<text class="cap" x="436.0" y="179.5" font-size="9" font-style="italic">f</text>
<text class="cap" x="441.4" y="175.0" font-size="7" font-style="italic">q</text>
<text class="cap" x="439.9" y="181.5" font-size="7.5" font-style="italic" textLength="5.6" lengthAdjust="spacingAndGlyphs">m</text>
<text class="cap" x="91.5" y="361.8" font-size="12.5" font-style="normal" style="stroke-width:0.6px" textLength="12.5" lengthAdjust="spacingAndGlyphs">(c)</text>
<text class="cap" x="107.6" y="361.8" font-size="13" font-style="italic">d</text>
<text class="cap" x="113.6" y="365.7" font-size="9" font-style="italic">f</text>
<text class="cap" x="119.6" y="361.6" font-size="7" font-style="italic">s</text>
<text class="cap" x="117.6" y="367.6" font-size="7.5" font-style="italic" textLength="4.9" lengthAdjust="spacingAndGlyphs">m</text>
<text class="cap" x="122.6" y="367.6" font-size="8.5" font-style="normal" textLength="19.2" lengthAdjust="spacingAndGlyphs">,new</text>
<line x1="143.6" x2="148.0" y1="363.0" y2="363.0" stroke="#1a1a1a" stroke-width="0.75"/>
<text class="cap" x="148.5" y="365.7" font-size="9" font-style="italic">f</text>
<text class="cap" x="154.5" y="361.0" font-size="7" font-style="italic">q</text>
<text class="cap" x="152.4" y="367.6" font-size="7.5" font-style="italic" textLength="4.9" lengthAdjust="spacingAndGlyphs">m</text>
<text class="cap" x="157.4" y="367.6" font-size="8.5" font-style="normal" textLength="19.0" lengthAdjust="spacingAndGlyphs">,new</text>
<text class="cap" x="380.5" y="361.8" font-size="12.5" font-style="normal" style="stroke-width:0.6px" textLength="14.4" lengthAdjust="spacingAndGlyphs">(d)</text>
<text class="cap" x="398.8" y="361.8" font-size="13" font-style="italic">d</text>
<text class="cap" x="405.4" y="365.4" font-size="9" font-style="italic">p</text>
<text class="cap" x="411.5" y="362.2" font-size="7" font-style="italic">s</text>
<text class="cap" x="409.6" y="367.6" font-size="8.5" font-style="normal" textLength="16.4" lengthAdjust="spacingAndGlyphs">new</text>
<line x1="427.6" x2="432.2" y1="363.3" y2="363.3" stroke="#1a1a1a" stroke-width="0.75"/>
<text class="cap" x="433.0" y="365.7" font-size="9" font-style="italic">f</text>
<text class="cap" x="439.2" y="361.0" font-size="7" font-style="italic">q</text>
<text class="cap" x="436.6" y="367.6" font-size="7.5" font-style="italic" textLength="5.0" lengthAdjust="spacingAndGlyphs">m</text>
<text class="cap" x="442.0" y="367.6" font-size="8.5" font-style="normal" textLength="19.0" lengthAdjust="spacingAndGlyphs">,new</text>
</svg></body></html>
